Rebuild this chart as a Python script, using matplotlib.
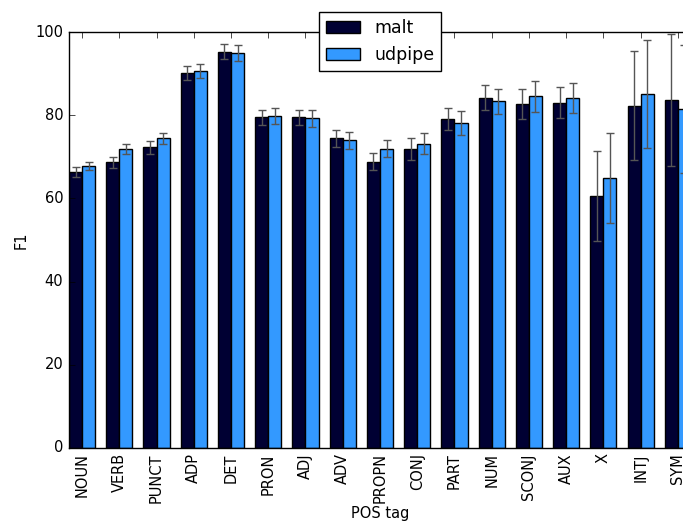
import matplotlib
matplotlib.use("Agg")
import matplotlib.pyplot as plt
import numpy as np

plt.style.use("classic")
plt.rcParams["font.size"] = 10.5

# POS tag categories and F1 scores (mean and error) per parser
tags = ["NOUN", "VERB", "PUNCT", "ADP", "DET", "PRON", "ADJ", "ADV", "PROPN",
        "CONJ", "PART", "NUM", "SCONJ", "AUX", "X", "INTJ", "SYM"]

malt = [66.3, 68.7, 72.3, 90.2, 95.3, 79.5, 79.5, 74.5, 68.9,
        71.9, 79.1, 84.3, 82.7, 83.1, 60.6, 82.3, 83.7]
malt_err = [1.2, 1.3, 1.5, 1.7, 1.8, 1.8, 1.9, 2.1, 2.1,
            2.6, 2.7, 3.0, 3.6, 3.8, 10.8, 13.1, 15.8]

udpipe = [67.8, 71.9, 74.5, 90.6, 95.1, 79.9, 79.3, 74.0, 72.0,
          73.2, 78.1, 83.4, 84.6, 84.2, 65.0, 85.2, 81.5]
udpipe_err = [1.0, 1.3, 1.3, 1.7, 1.9, 1.9, 2.0, 2.0, 2.1,
              2.6, 2.9, 3.0, 3.7, 3.7, 10.8, 13.0, 15.4]

width = 0.35
ind = np.arange(len(tags))

fig = plt.figure(figsize=(6.83, 5.25), dpi=100, facecolor="white")
# axes run past the right edge of the figure, as in the original crop
ax = fig.add_axes([0.101, 0.1472, 0.9107, 0.7912])

err_kw = dict(ecolor="#555555", capsize=3, elinewidth=1, capthick=1)
ax.bar(ind, malt, width, yerr=malt_err, color="#000033", edgecolor="black",
       align="edge", label="malt", error_kw=err_kw)
ax.bar(ind + width, udpipe, width, yerr=udpipe_err, color="#3399ff",
       edgecolor="black", align="edge", label="udpipe", error_kw=err_kw)

ax.set_xlim(0, len(tags) - 1 + 2 * width)
ax.set_ylim(0, 100)
ax.set_yticks(np.arange(0, 101, 20))
ax.set_xticks(ind + width)
ax.set_xticklabels(tags, rotation=90)
ax.tick_params(labelsize=10.5)

ax.set_xlabel("POS tag", fontsize=10.5, labelpad=2)
ax.set_ylabel("F1", fontsize=10.5)

ax.legend(loc="upper center", bbox_to_anchor=(0.5, 1.048), borderaxespad=0,
          fontsize=12.5)

fig.savefig("out.png", dpi=100, facecolor="white")
